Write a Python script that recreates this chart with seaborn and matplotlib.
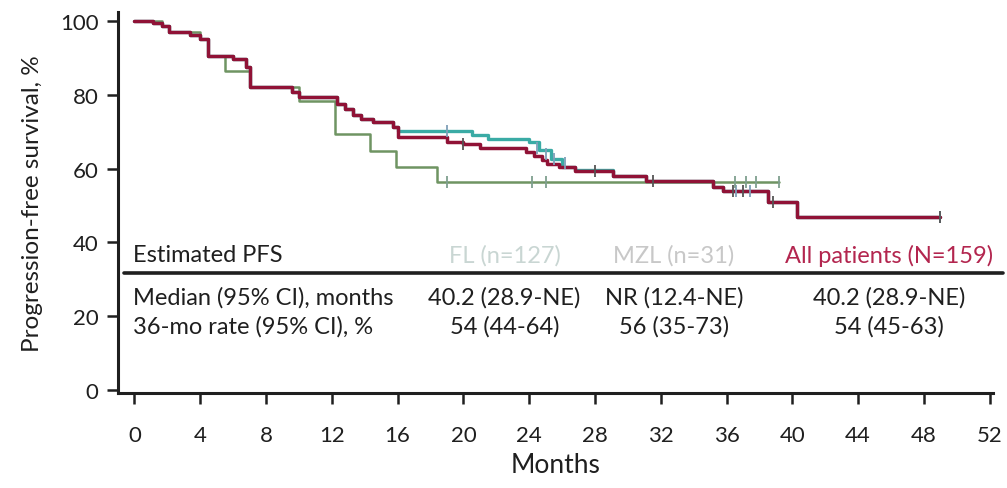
import matplotlib
matplotlib.use("Agg")
import matplotlib.pyplot as plt
import seaborn as sns
import pandas as pd

# ---------------- data ----------------
fl_t = [0, 1.1, 1.7, 2.1, 3.4, 4.0, 4.5, 6.0, 6.8, 7.0, 9.6, 10.0, 12.3, 12.8, 13.3, 13.8, 14.5, 15.7,
        16.0, 20.5, 21.5, 24.0, 24.6, 25.3, 26.0, 26.8, 29.1, 31.1, 35.2, 35.8, 38.5, 40.3, 49.0]
fl_s = [100, 99.5, 98.5, 97.0, 96.3, 95.0, 90.5, 89.7, 87.5, 82.0, 80.8, 79.5, 77.5, 76.0, 74.5, 73.5, 72.5, 71.3,
        70.2, 69.0, 68.0, 67.2, 65.0, 62.6, 60.4, 59.5, 58.0, 56.6, 55.0, 54.0, 51.0, 47.0, 47.0]

mzl_t = [0, 1.7, 2.1, 4.0, 4.5, 5.5, 7.0, 10.0, 12.2, 14.3, 15.9, 18.4, 39.2]
mzl_s = [100, 98.5, 97.0, 95.0, 90.5, 86.5, 82.0, 78.2, 69.4, 64.8, 60.5, 56.4, 56.4]

all_t = [0, 1.1, 1.7, 2.1, 3.4, 4.0, 4.5, 6.0, 6.8, 7.0, 9.6, 10.0, 12.3, 12.8, 13.3, 13.8, 14.5, 15.7,
         16.0, 19.0, 20.0, 21.0, 23.8, 24.3, 24.8, 25.1, 25.8, 26.8, 29.1, 31.1, 35.2, 35.8, 38.5, 40.3, 49.0]
all_s = [100, 99.5, 98.5, 97.0, 96.3, 95.0, 90.5, 89.7, 87.5, 82.0, 80.8, 79.5, 77.5, 76.0, 74.5, 73.5, 72.5, 71.3,
         68.6, 67.2, 66.7, 65.5, 64.5, 63.4, 62.3, 61.2, 60.4, 59.3, 58.0, 56.6, 55.0, 54.0, 51.0, 47.0, 47.0]

fl_cens_t = [19.0, 24.5, 25.0, 25.5, 26.2, 36.6, 37.4, 49.0]
fl_cens_s = [70.2, 65.5, 64.0, 62.6, 61.5, 54.0, 54.0, 47.0]
mzl_cens_t = [19.0, 24.2, 25.0, 36.5, 37.2, 37.8, 39.2]
mzl_cens_s = [56.4, 56.4, 56.4, 56.4, 56.4, 56.4, 56.4]
all_cens_t = [20.0, 28.0, 31.5, 36.4, 37.0, 38.8, 49.0]
all_cens_s = [66.7, 59.3, 56.6, 54.0, 54.0, 51.0, 47.0]

x_ticks = list(range(0, 53, 4))
y_ticks = [0, 20, 40, 60, 80, 100]

table_header = ["Estimated PFS", "FL (n=127)", "MZL (n=31)", "All patients (N=159)"]
row_median = ["Median (95% CI), months", "40.2 (28.9-NE)", "NR (12.4-NE)", "40.2 (28.9-NE)"]
row_rate = ["36-mo rate (95% CI), %", "54 (44-64)", "56 (35-73)", "54 (45-63)"]

# ---------------- style ----------------
sns.set_theme(style="white")
plt.rcParams["font.family"] = ["Lato", "DejaVu Sans"]

C_FL = "#3aaba5"
C_MZL = "#6f9462"
C_ALL = "#901236"
TXT = "#1f1f1f"

fig = plt.figure(figsize=(10.07, 4.89), dpi=100)
ax = fig.add_axes([118 / 1007, 1 - 394 / 489, 875 / 1007, 381 / 489])

df = pd.concat([
    pd.DataFrame({"t": fl_t, "s": fl_s, "g": "FL"}),
    pd.DataFrame({"t": mzl_t, "s": mzl_s, "g": "MZL"}),
    pd.DataFrame({"t": all_t, "s": all_s, "g": "All"}),
])

for g, c, lw, z in [("MZL", C_MZL, 1.8, 2), ("FL", C_FL, 2.4, 3), ("All", C_ALL, 2.5, 4)]:
    sub = df[df.g == g]
    sns.lineplot(data=sub, x="t", y="s", ax=ax, color=c, lw=lw, drawstyle="steps-post",
                 estimator=None, sort=False, zorder=z, legend=False)

ax.plot(fl_cens_t, fl_cens_s, ls="none", marker="|", ms=8, mew=1.3, color="#7f9fb8", zorder=5)
ax.plot(mzl_cens_t, mzl_cens_s, ls="none", marker="|", ms=8, mew=1.3, color="#7f9f8f", zorder=5)
ax.plot(all_cens_t, all_cens_s, ls="none", marker="|", ms=8, mew=1.3, color="#555555", zorder=6)

ax.set_xlim(-1.0, 52.2)
ax.set_ylim(-0.8, 102.4)
ax.set_xticks(x_ticks)
ax.set_yticks(y_ticks)
ax.tick_params(axis="both", which="both", direction="out", length=8, width=1.8,
               color=TXT, labelsize=16, labelcolor=TXT, bottom=True, left=True)
ax.tick_params(axis="x", pad=15)
ax.tick_params(axis="y", pad=6)
for s in ["top", "right"]:
    ax.spines[s].set_visible(False)
for s in ["left", "bottom"]:
    ax.spines[s].set_linewidth(2.2)
    ax.spines[s].set_color(TXT)

ax.set_xlabel("Months", fontsize=19, color=TXT, labelpad=5)
ax.set_ylabel("Progression-free survival, %", fontsize=17.5, color=TXT, labelpad=12)

# ---------------- table ----------------
col_x = [-0.1, 22.5, 32.8, 45.9]
hdr_colors = [TXT, "#c9d6d3", "#c8c8c8", "#b3264f"]
fs = 17
for i, (txt, col) in enumerate(zip(table_header, hdr_colors)):
    ax.text(col_x[i], 36.6, txt, ha="left" if i == 0 else "center", va="center",
            fontsize=fs, color=col)
for i, txt in enumerate(row_median):
    ax.text(col_x[i], 25.2, txt, ha="left" if i == 0 else "center", va="center", fontsize=fs, color=TXT)
for i, txt in enumerate(row_rate):
    ax.text(col_x[i], 17.3, txt, ha="left" if i == 0 else "center", va="center", fontsize=fs, color=TXT)
ax.plot([-0.65, 52.8], [31.7, 31.7], color=TXT, lw=2.6, clip_on=False, zorder=7)

fig.savefig("out.png", dpi=100)
